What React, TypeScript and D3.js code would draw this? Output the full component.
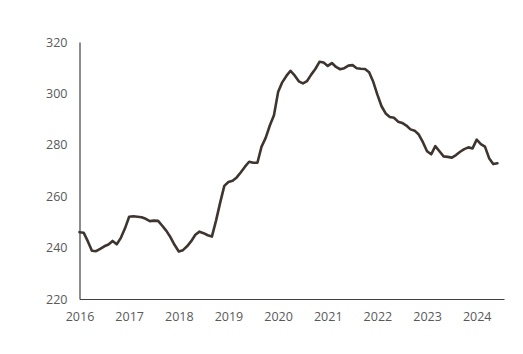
import * as d3 from "d3";
import { useEffect, useRef } from "react";

const WIDTH = 523;
const HEIGHT = 354;

// monthly values, Jan 2016 .. Jun 2024
const startYear = 2016;
const values2016 = [246, 245.8, 242.5, 238.8, 238.6, 239.5, 240.5, 241.2, 242.6, 241.3, 243.8, 247.5];
const values2017 = [252, 252.2, 252, 251.8, 251.2, 250.3, 250.5, 250.4, 248.5, 246.5, 244, 241];
const values2018 = [238.5, 239, 240.5, 242.5, 245, 246.2, 245.6, 244.8, 244.3, 250.5, 257.5, 264];
const values2019 = [265.5, 266, 267.3, 269.3, 271.5, 273.4, 273, 273, 279.3, 282.7, 287.5, 291.5];
const values2020 = [300.5, 304.3, 306.8, 308.8, 307, 304.7, 303.9, 304.8, 307.3, 309.5, 312.3, 312];
const values2021 = [310.7, 311.8, 310.3, 309.4, 309.8, 310.8, 311, 309.8, 309.6, 309.5, 308.2, 304.5];
const values2022 = [299.5, 295, 292.2, 290.8, 290.5, 289, 288.5, 287.5, 286, 285.5, 284, 281];
const values2023 = [277.5, 276.3, 279.5, 277.5, 275.5, 275.3, 275, 276, 277.3, 278.3, 279, 278.6];
const values2024 = [282, 280.3, 279.3, 274.8, 272.5, 272.8];

const yTicks = [220, 240, 260, 280, 300, 320];
const xTicks = [2016, 2017, 2018, 2019, 2020, 2021, 2022, 2023, 2024];

const allValues = [
    ...values2016, ...values2017, ...values2018, ...values2019, ...values2020,
    ...values2021, ...values2022, ...values2023, ...values2024,
];

type Point = { t: number; value: number };
const points: Point[] = allValues.map((value, i) => ({ t: startYear + i / 12, value }));

export default function App() {
    const svgRef = useRef<SVGSVGElement | null>(null);

    useEffect(() => {
        if (!svgRef.current) return;
        const svg = d3.select(svgRef.current);
        svg.selectAll("*").remove();

        const x = d3.scaleLinear().domain([2016, 2024.55]).range([79.5, 504]);
        const y = d3.scaleLinear().domain([220, 320]).range([299, 42]);

        const font = "'Open Sans', sans-serif";
        const axisColor = "#404040";
        const labelColor = "#595959";

        const xAxis = svg
            .append("g")
            .attr("transform", `translate(0,${y(220)})`)
            .call(
                d3
                    .axisBottom(x)
                    .tickValues(xTicks)
                    .tickFormat((d) => String(d))
                    .tickSize(0)
                    .tickPadding(13.5)
            );
        xAxis.select(".domain").attr("stroke", axisColor).attr("stroke-width", 1.2);
        xAxis.selectAll("text").attr("fill", labelColor).style("font-family", font).style("font-size", "12.5px");

        const yAxis = svg
            .append("g")
            .attr("transform", `translate(${x(2016)},0)`)
            .call(d3.axisLeft(y).tickValues(yTicks).tickSize(0).tickPadding(12));
        yAxis.select(".domain").attr("stroke", axisColor).attr("stroke-width", 1.2);
        yAxis.selectAll("text").attr("fill", labelColor).style("font-family", font).style("font-size", "12.5px");

        const line = d3
            .line<Point>()
            .x((d) => x(d.t))
            .y((d) => y(d.value))
            .curve(d3.curveLinear);

        svg.append("path")
            .datum(points)
            .attr("fill", "none")
            .attr("stroke", "#3e3530")
            .attr("stroke-width", 2.6)
            .attr("stroke-linejoin", "round")
            .attr("stroke-linecap", "round")
            .attr("d", line(points) ?? "");
    }, []);

    return (
        <div style={{ position: "absolute", left: 0, top: 0, width: WIDTH, height: HEIGHT, background: "#fff" }}>
            <svg ref={svgRef} width={WIDTH} height={HEIGHT} />
        </div>
    );
}
